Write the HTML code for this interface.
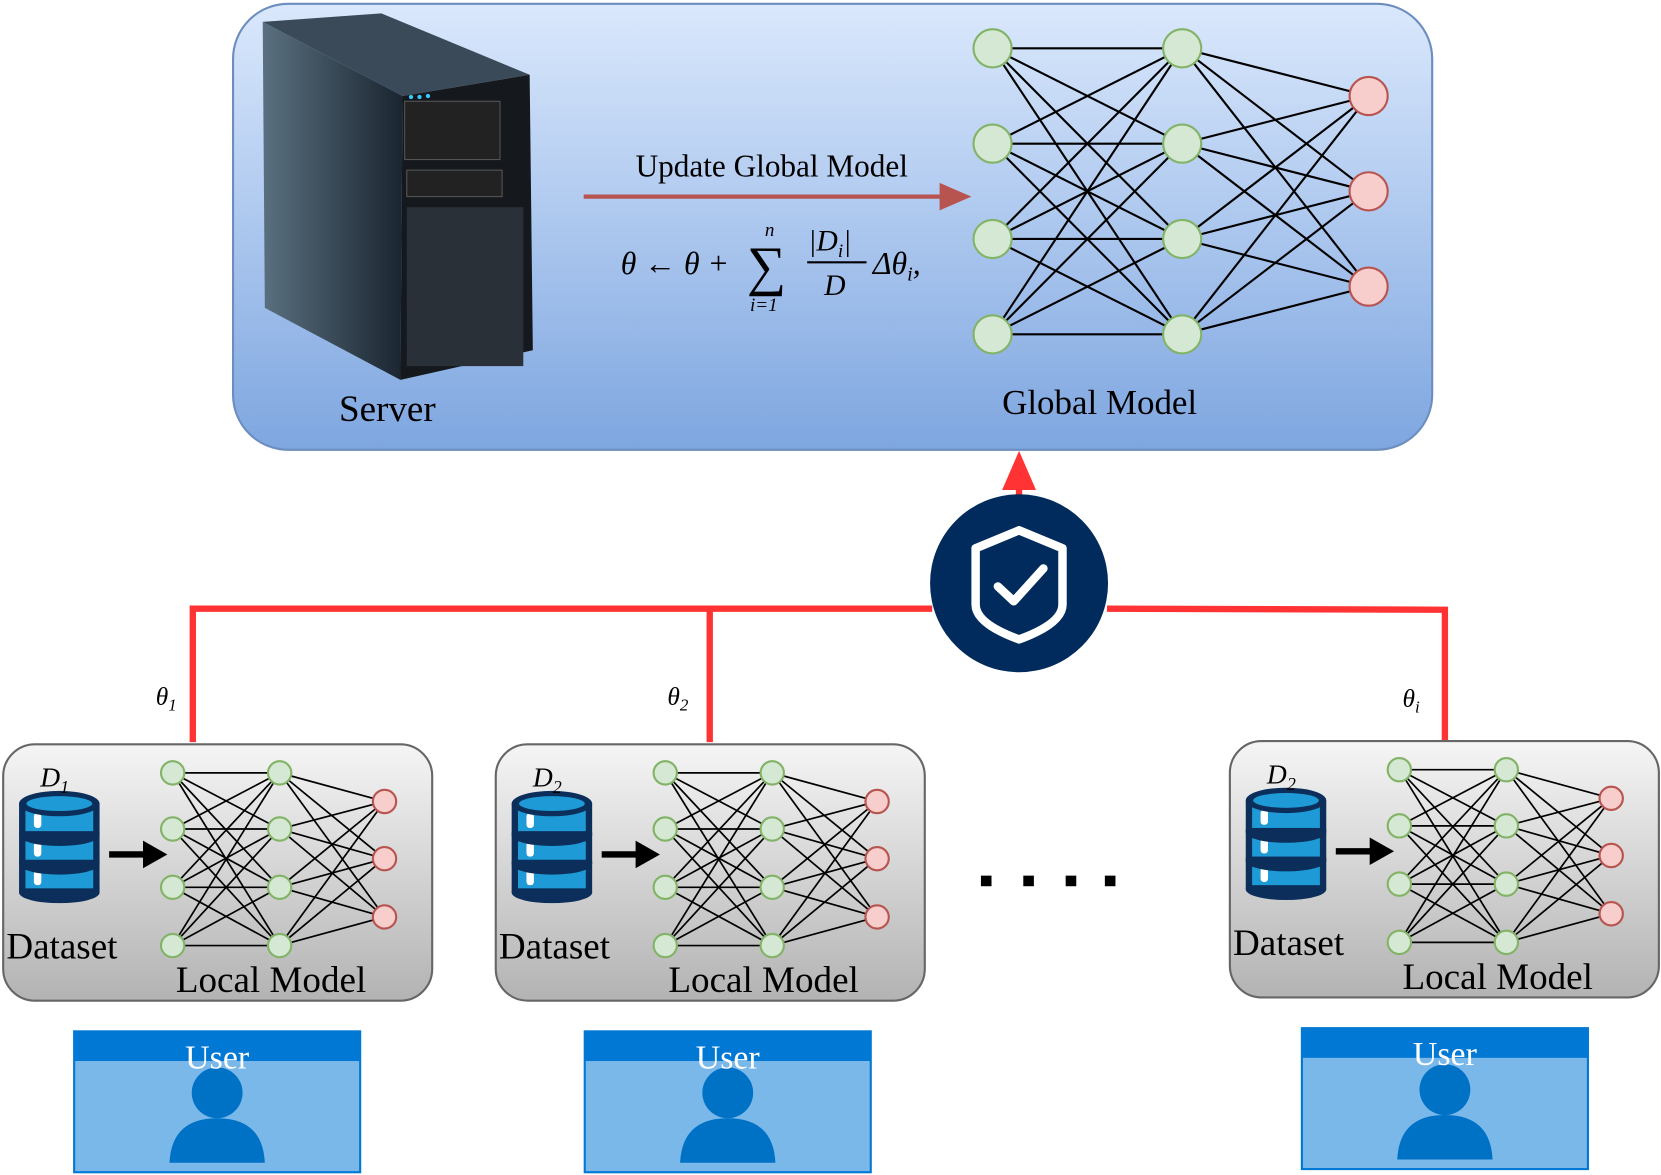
<!DOCTYPE html>
<html><head><meta charset="utf-8"><style>
html,body{margin:0;padding:0;background:#fff;}
svg{display:block;}
text{font-family:"Liberation Serif",serif;}
</style></head><body>
<svg id="s" width="1661" height="1175" viewBox="0 0 1568 1108" xmlns="http://www.w3.org/2000/svg">
<defs>
<linearGradient id="gb" x1="0" y1="0" x2="0" y2="1"><stop offset="0" stop-color="#dae8fc"/><stop offset="1" stop-color="#7ea6e0"/></linearGradient>
<linearGradient id="gg" x1="0" y1="0" x2="0" y2="1"><stop offset="0" stop-color="#f5f5f5"/><stop offset="1" stop-color="#b3b3b3"/></linearGradient>
<linearGradient id="tw" x1="0" y1="0" x2="1" y2="0"><stop offset="0" stop-color="#5a7080"/><stop offset="1" stop-color="#1a2530"/></linearGradient>
</defs>
<rect x="220" y="3" width="1132" height="421" rx="52" fill="url(#gb)" stroke="#6c8ebf" stroke-width="2"/>
<polygon points="248,20 360,12 500,70 380,90" fill="#3a4a58"/>
<polygon points="248,20 380,90 378,358 250,290" fill="url(#tw)"/>
<polygon points="380,90 500,70 503,330 378,358" fill="#15191e"/>
<rect x="382" y="95" width="90" height="55" fill="#222" stroke="#555"/>
<rect x="384" y="160" width="90" height="25" fill="#222" stroke="#555"/>
<rect x="384" y="195" width="110" height="150" fill="#2a3038"/>
<circle cx="388" cy="91" r="2" fill="#3cf"/><circle cx="396" cy="91" r="2" fill="#3cf"/><circle cx="404" cy="90" r="2" fill="#3cf"/>
<text x="320" y="397" font-size="35">Server</text>
<text x="600" y="166" font-size="29.5">Update Global Model</text>
<line x1="551" y1="185" x2="895" y2="185" stroke="#b85450" stroke-width="4"/>
<polygon points="917,185 887,172 887,198" fill="#b85450"/>
<text x="586" y="258" font-size="30" font-style="italic">θ ← θ +</text>
<text x="705" y="268" font-size="52">∑</text>
<text x="722" y="222" font-size="18" font-style="italic">n</text>
<text x="708" y="293" font-size="18" font-style="italic">i=1</text>
<text x="763" y="236" font-size="28" font-style="italic">|D<tspan font-size="18" dy="6">i</tspan><tspan dy="-6">|</tspan></text>
<line x1="762" y1="247" x2="818" y2="247" stroke="#000" stroke-width="2"/>
<text x="778" y="278" font-size="28" font-style="italic">D</text>
<text x="824" y="258" font-size="30" font-style="italic">Δθ<tspan font-size="19" dy="6">i</tspan><tspan dy="-6">,</tspan></text>
<text x="946" y="390" font-size="33">Global Model</text>
<g id="nets"></g>
<g stroke="#ff3333" stroke-width="6" fill="none">
<line x1="962" y1="470" x2="962" y2="445"/>
<polyline points="182,700 182,574 880,574"/>
<line x1="670" y1="574" x2="670" y2="700"/>
<polyline points="1045,574 1364,575 1364,698"/>
</g>
<polygon points="962,425 946,462 978,462" fill="#ff3333"/>
<circle cx="962" cy="550" r="84" fill="#002b5c"/>
<path d="M962,500 L1003,517 L1003,570 Q1003,588 962,603 Q921,588 921,570 L921,517 Z" fill="none" stroke="#fff" stroke-width="8" stroke-linejoin="round"/>
<polyline points="942,553 957,567 985,536" fill="none" stroke="#fff" stroke-width="8" stroke-linecap="round" stroke-linejoin="round"/>
<text x="147" y="665" font-size="24" font-style="italic">θ<tspan font-size="16" dy="5">1</tspan></text>
<text x="630" y="665" font-size="24" font-style="italic">θ<tspan font-size="16" dy="5">2</tspan></text>
<text x="1324" y="667" font-size="24" font-style="italic">θ<tspan font-size="16" dy="5">i</tspan></text>
<g fill="#000"><rect x="926" y="826" width="10" height="10"/><rect x="966" y="826" width="10" height="10"/><rect x="1006" y="826" width="10" height="10"/><rect x="1043" y="826" width="10" height="10"/></g>
<g id="locals"></g>
</svg>
<script>
var NS="http://www.w3.org/2000/svg";
function el(p,t,a,txt){var e=document.createElementNS(NS,t);for(var k in a)e.setAttribute(k,a[k]);if(txt)e.textContent=txt;p.appendChild(e);return e;}
function net(g,x1,x2,x3,ys,ys3,r,sw){
 ys.forEach(function(a){ys.forEach(function(b){el(g,"line",{x1:x1,y1:a,x2:x2,y2:b,stroke:"#000","stroke-width":sw});});});
 ys.forEach(function(a){ys3.forEach(function(b){el(g,"line",{x1:x2,y1:a,x2:x3,y2:b,stroke:"#000","stroke-width":sw});});});
 ys.forEach(function(y){el(g,"circle",{cx:x1,cy:y,r:r,fill:"#d5e8d4",stroke:"#82b366","stroke-width":2});el(g,"circle",{cx:x2,cy:y,r:r,fill:"#d5e8d4",stroke:"#82b366","stroke-width":2});});
 ys3.forEach(function(y){el(g,"circle",{cx:x3,cy:y,r:r,fill:"#f8cecc",stroke:"#b85450","stroke-width":2});});
}
net(document.getElementById("nets"),937,1116,1292,[45,135,225,315],[90,180,270],18,2);
var L=document.getElementById("locals");
[[3,702,"1"],[468,702,"2"],[1161,699,"2"]].forEach(function(b){
 var x=b[0],y=b[1],g=el(L,"g",{});
 el(g,"rect",{x:x,y:y,width:405,height:242,rx:30,fill:"url(#gg)",stroke:"#666","stroke-width":2});
 net(g,x+160,x+261,x+360,[y+27,y+80,y+135,y+190],[y+54,y+108,y+163],11,1.6);
 var cx=x+53;
 for(var i=2;i>=0;i--){var ty=y+56+i*27;
  el(g,"rect",{x:cx-38,y:ty,width:76,height:30,fill:"#0b2f5a"});
  el(g,"ellipse",{cx:cx,cy:ty+30,rx:38,ry:10,fill:"#0b2f5a"});
  el(g,"rect",{x:cx-32,y:ty+6,width:64,height:20,fill:"#1e9ad6"});
  el(g,"rect",{x:cx-24,y:ty+9,width:7,height:14,rx:3,fill:"#fff"});
 }
 el(g,"ellipse",{cx:cx,cy:y+56,rx:38,ry:12,fill:"#0b2f5a"});
 el(g,"ellipse",{cx:cx,cy:y+56,rx:31,ry:7,fill:"#1e9ad6"});
 el(g,"line",{x1:x+100,y1:y+104,x2:x+135,y2:y+104,stroke:"#000","stroke-width":6});
 el(g,"polygon",{points:(x+155)+","+(y+104)+" "+(x+132)+","+(y+91)+" "+(x+132)+","+(y+117),fill:"#000"});
 var t=el(g,"text",{x:x+35,y:y+40,"font-size":26,"font-style":"italic"},"D");
 el(t,"tspan",{"font-size":17,dy:6},b[2]);
 el(g,"text",{x:x+3,y:y+202,"font-size":35},"Dataset");
 el(g,"text",{x:x+163,y:y+234,"font-size":35},"Local Model");
});
[[70,973],[552,973],[1229,970]].forEach(function(u){
 var x=u[0],y=u[1],g=el(L,"g",{});
 el(g,"rect",{x:x,y:y,width:270,height:133,fill:"#7ab8ea",stroke:"#0078d4","stroke-width":2});
 el(g,"rect",{x:x,y:y,width:270,height:28,fill:"#0078d4"});
 el(g,"circle",{cx:x+135,cy:y+58,r:24,fill:"#0072c6"});
 el(g,"path",{d:"M"+(x+90)+","+(y+124)+" Q"+(x+92)+","+(y+82)+" "+(x+135)+","+(y+82)+" Q"+(x+178)+","+(y+82)+" "+(x+180)+","+(y+124)+" Z",fill:"#0072c6"});
 el(g,"text",{x:x+135,y:y+35,"font-size":32,fill:"#fff","text-anchor":"middle"},"User");
});
</script>
</body></html>
